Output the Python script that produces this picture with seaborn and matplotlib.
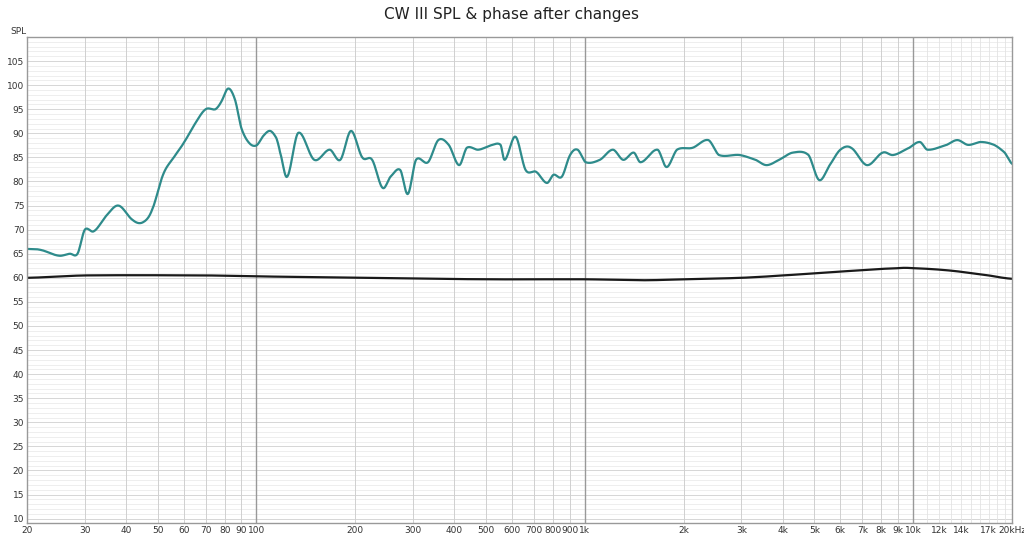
import numpy as np
import pandas as pd
import matplotlib
matplotlib.use("Agg")
import matplotlib.pyplot as plt
import seaborn as sns

spl_freq = [20, 22, 25, 27, 28.5, 30, 32, 35, 38, 42, 45, 48, 52, 56, 60, 65, 70, 75, 78, 82, 86, 90, 95, 100,
            105, 110, 115, 118, 124, 134, 150, 167, 180, 194, 210, 225, 242, 256, 274, 289, 306, 333, 358, 385,
            414, 437, 474, 524, 554, 570, 615, 660, 711, 766, 803, 851, 902, 950, 1006, 1111, 1217, 1309, 1409,
            1479, 1665, 1774, 1908, 2129, 2377, 2560, 2960, 3314, 3576, 3903, 4300, 4800, 5173, 5570, 6000,
            6470, 7230, 8080, 8700, 9730, 10480, 11050, 12650, 13630, 14700, 16080, 17650, 19000, 20000]
spl_db = [66, 65.8, 64.6, 65, 65, 70, 69.7, 73, 75, 72, 71.5, 74, 81.5, 85, 88, 92, 95, 95, 96.5, 99.3, 97, 91,
          88, 87.5, 89.5, 90.5, 89, 86, 81, 90.1, 84.5, 86.6, 84.5, 90.5, 85, 84.5, 78.7, 81, 82.4, 77.4, 84.5,
          84, 88.6, 87.6, 83.4, 87, 86.6, 87.6, 87.6, 84.5, 89.3, 82.4, 82, 79.7, 81.4, 81, 85.5, 86.6, 84,
          84.5, 86.6, 84.5, 86, 84, 86.6, 83, 86.6, 87, 88.6, 85.5, 85.5, 84.5, 83.4, 84.5, 86, 85.5, 80.3,
          83.4, 86.6, 87, 83.4, 86, 85.5, 87, 88.2, 86.6, 87.6, 88.6, 87.6, 88.2, 87.6, 86, 83.7]
phase_freq = [20, 30, 70, 100, 200, 500, 1000, 1500, 2000, 3000, 4000, 6000, 9000, 10000, 13000, 17000, 20000]
phase_db = [60, 60.5, 60.5, 60.3, 60, 59.7, 59.7, 59.5, 59.7, 60, 60.5, 61.3, 62, 62, 61.5, 60.5, 59.8]

x_ticks = [20, 30, 40, 50, 60, 70, 80, 90, 100, 200, 300, 400, 500, 600, 700, 800, 900, 1000,
           2000, 3000, 4000, 5000, 6000, 7000, 8000, 9000, 10000, 12000, 14000, 17000, 20000]
x_labels = ["20", "30", "40", "50", "60", "70", "80", "90", "100", "200", "300", "400", "500", "600", "700",
            "800", "900", "1k", "2k", "3k", "4k", "5k", "6k", "7k", "8k", "9k", "10k", "12k", "14k", "17k", "20kHz"]
y_ticks = list(range(10, 110, 5))

fig = plt.figure(figsize=(10.24, 5.38), dpi=100)
ax = fig.add_axes([27/1024, 15/538, 985/1024, 486/538])

def smooth(f, v):
    lf = np.log10(f)
    xs = np.linspace(lf[0], lf[-1], 1500)
    lf = np.array(lf); v = np.array(v, float)
    out = []
    for x in xs:
        i = min(np.searchsorted(lf, x, side="right") - 1, len(lf) - 2)
        p0 = v[max(i-1, 0)]; p1 = v[i]; p2 = v[i+1]; p3 = v[min(i+2, len(v)-1)]
        t = (x - lf[i]) / (lf[i+1] - lf[i])
        out.append(0.5*((2*p1) + (-p0+p2)*t + (2*p0-5*p1+4*p2-p3)*t*t + (-p0+3*p1-3*p2+p3)*t**3))
    return 10**xs, np.array(out)

fs, vs = smooth(spl_freq, spl_db)
fp, vp = smooth(phase_freq, phase_db)
sns.lineplot(x=fs, y=vs, ax=ax, color="#2e8b8b", lw=1.6, sort=False)
sns.lineplot(x=fp, y=vp, ax=ax, color="#1a1a1a", lw=1.6, sort=False)

ax.set_xscale("log")
ax.set_xlim(20, 20000)
ax.set_ylim(9.1, 110)

for v in np.arange(10, 111, 1):
    ax.axhline(v, color="#ebebeb" if v % 5 else "#d0d0d0", lw=0.6, zorder=0)
for d in [10, 100, 1000, 10000]:
    for m in range(1, 10):
        f = d * m
        if 20 <= f <= 20000:
            major = f in (100, 1000, 10000)
            ax.axvline(f, color="#999999" if major else "#d0d0d0", lw=1.0 if major else 0.7, zorder=0)
for f in [11000, 12000, 13000, 14000, 15000, 16000, 17000, 18000, 19000]:
    ax.axvline(f, color="#e3e3e3", lw=0.6, zorder=0)

ax.set_xticks(x_ticks)
ax.set_xticklabels(x_labels)
ax.xaxis.set_minor_locator(matplotlib.ticker.NullLocator())
for lab, f in zip(ax.get_xticklabels(), x_ticks):
    if f in (12000, 14000, 17000):
        lab.set_color("#aaaaaa")
ax.set_yticks(y_ticks)
ax.set_yticklabels([str(v) for v in y_ticks])
ax.get_yticklabels()[-1].set_color("#aaaaaa")
ax.tick_params(length=0, labelsize=6.5, colors="#333333", pad=2)
ax.set_xlabel(""); ax.set_ylabel("")
for s in ax.spines.values():
    s.set_color("#999999"); s.set_linewidth(1.0)
fig.text(10/1024, 1 - 31/538, "SPL", fontsize=6.5, color="#333333", va="center")
fig.text(0.5, 1 - 15/538, "CW III SPL & phase after changes", fontsize=11, ha="center", va="center", color="#222222")
fig.savefig("out.png", dpi=100, facecolor="white")
